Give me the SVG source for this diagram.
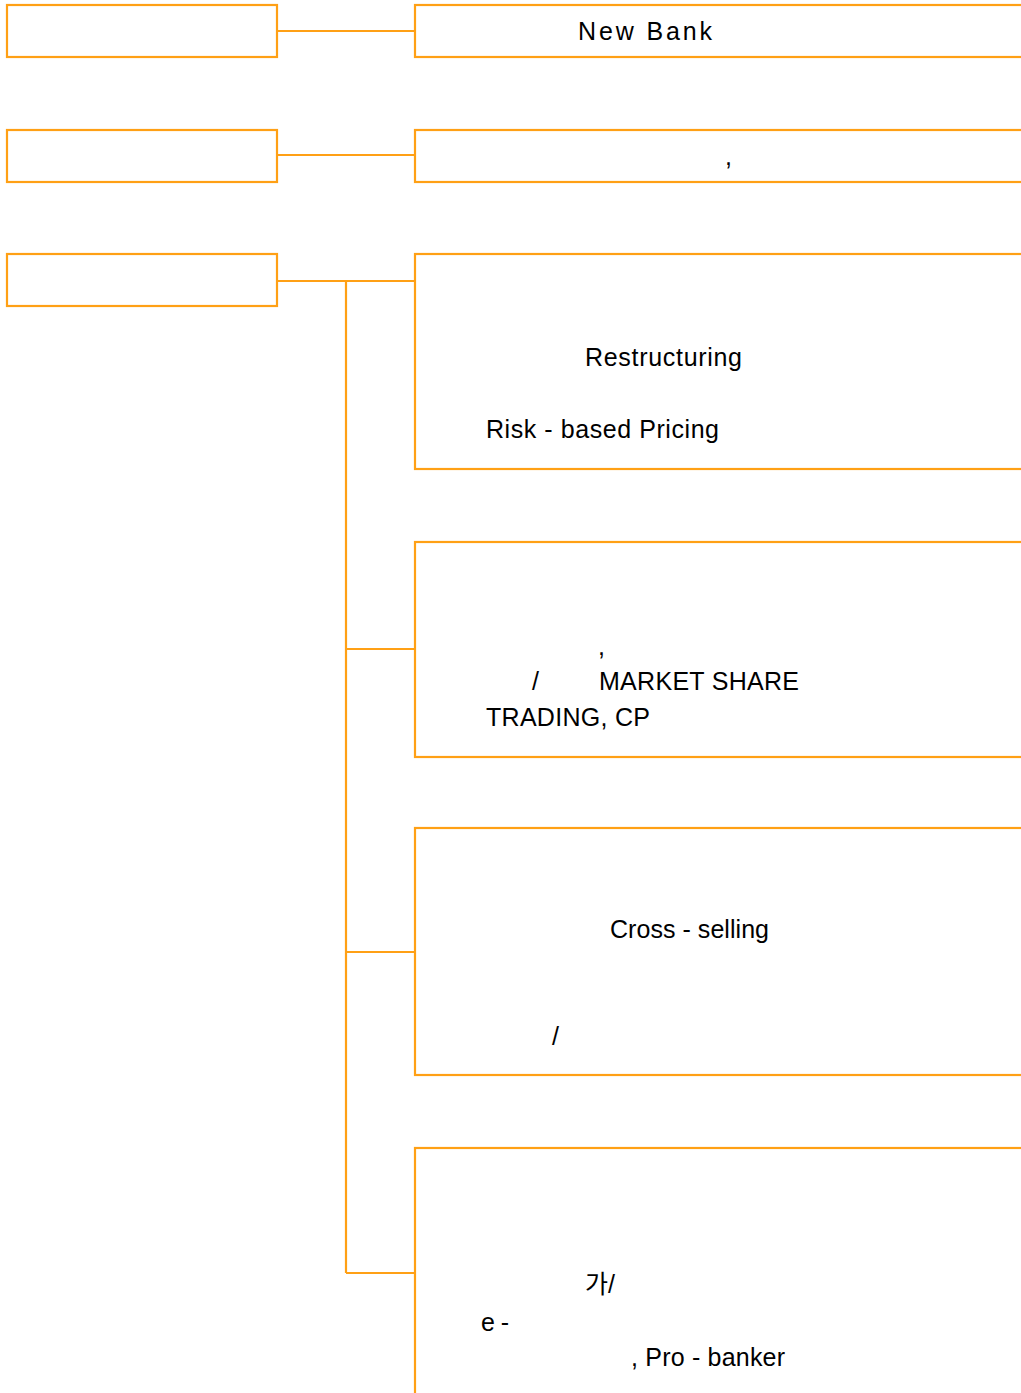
<svg xmlns="http://www.w3.org/2000/svg" width="1021" height="1393" viewBox="0 0 1021 1393">
<style>
.box{fill:#FFFFFF;stroke:#FFA015;stroke-width:2.2}
.con{fill:none;stroke:#FFA015;stroke-width:2.2}
.t{font-family:"Liberation Sans",Arial,"Noto Sans CJK KR",sans-serif;font-size:25px;fill:#000000}
</style>
<rect width="1021" height="1393" fill="#FFFFFF"/>
<g id="connectors">
<line class="con" x1="277" y1="31" x2="415" y2="31"/>
<line class="con" x1="277" y1="155" x2="415" y2="155"/>
<line class="con" x1="277" y1="281" x2="415" y2="281"/>
<line class="con" x1="346" y1="281" x2="346" y2="1273"/>
<line class="con" x1="346" y1="649" x2="415" y2="649"/>
<line class="con" x1="346" y1="952" x2="415" y2="952"/>
<line class="con" x1="346" y1="1273" x2="415" y2="1273"/>
</g>
<g id="left1"><rect class="box" x="7" y="5" width="270" height="52"/></g>
<g id="left2"><rect class="box" x="7" y="130" width="270" height="52"/></g>
<g id="left3"><rect class="box" x="7" y="254" width="270" height="52"/></g>
<g id="right1"><rect class="box" x="415" y="5" width="620" height="52"/>
<text class="t" x="578" y="40" textLength="134" lengthAdjust="spacing">New Bank</text></g>
<g id="right2"><rect class="box" x="415" y="130" width="620" height="52"/>
<text class="t" x="725" y="165">,</text></g>
<g id="right3a"><rect class="box" x="415" y="254" width="620" height="215"/>
<text class="t" x="585" y="366" textLength="157" lengthAdjust="spacing">Restructuring</text>
<text class="t" x="486" y="438" textLength="233" lengthAdjust="spacing">Risk - based Pricing</text></g>
<g id="right3b"><rect class="box" x="415" y="542" width="620" height="215"/>
<text class="t" x="598" y="655">,</text>
<text class="t" x="532" y="690">/</text>
<text class="t" x="599" y="690" textLength="200" lengthAdjust="spacing">MARKET SHARE</text>
<text class="t" x="486" y="726" textLength="164" lengthAdjust="spacing">TRADING, CP</text></g>
<g id="right3c"><rect class="box" x="415" y="828" width="620" height="247"/>
<text class="t" x="610" y="938" textLength="159" lengthAdjust="spacing">Cross - selling</text>
<text class="t" x="552" y="1045">/</text></g>
<g id="right3d"><rect class="box" x="415" y="1148" width="620" height="260"/>
<text class="t" x="585" y="1293">가/</text>
<text class="t" x="481" y="1331" textLength="28" lengthAdjust="spacing">e -</text>
<text class="t" x="631" y="1366" textLength="154" lengthAdjust="spacing">, Pro - banker</text></g>
</svg>
